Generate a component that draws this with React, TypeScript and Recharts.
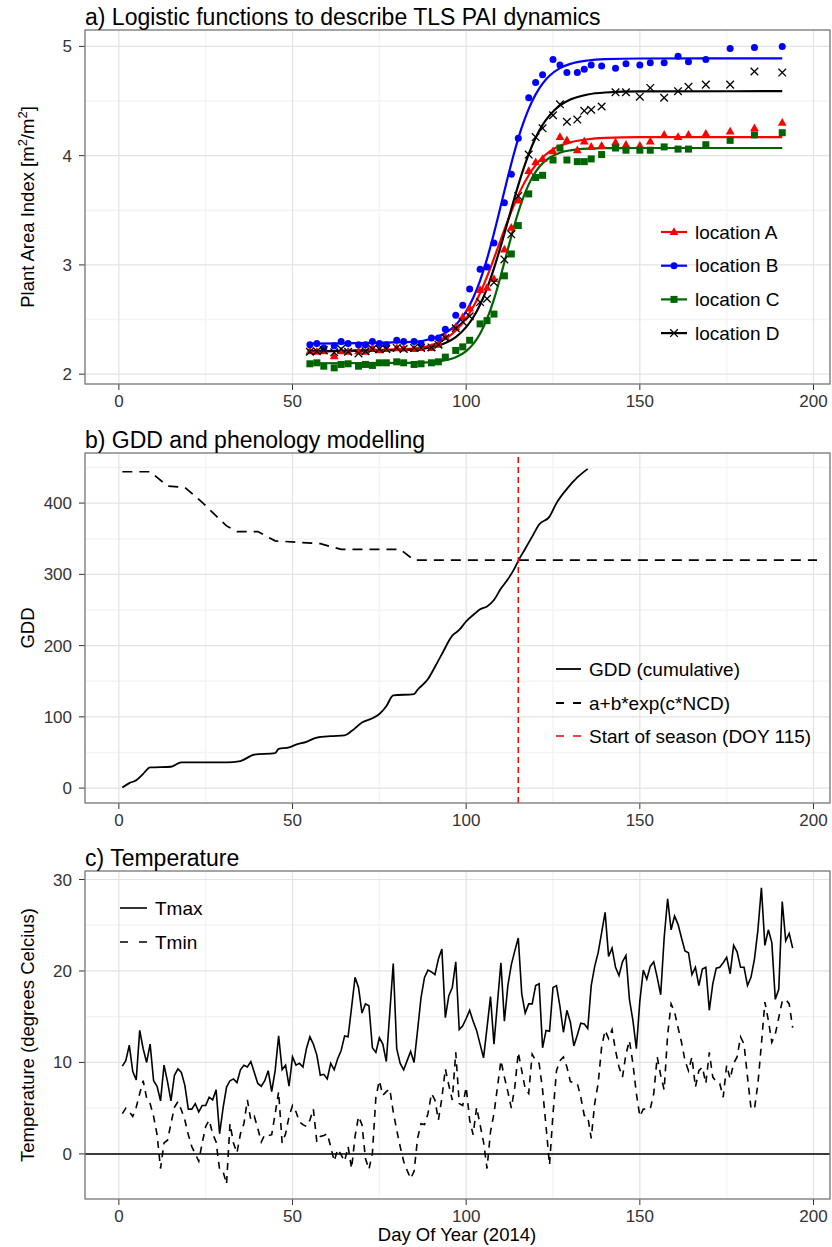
import React from 'react';
import { ComposedChart, Line, Scatter, XAxis, YAxis, CartesianGrid, ReferenceLine } from 'recharts';

const FONT = "'Liberation Sans', Arial, Helvetica, sans-serif";
const MAJOR = '#E3E3E3';
const MINOR = '#F4F4F4';
const TXT = '#333333';

// ---------- shared x axis ----------
const xTicks = [0, 50, 100, 150, 200];
const xMinor = [25, 75, 125, 175];
const xDomain: [number, number] = [-9.75, 204.75];

// ---------- panel a : PAI ----------
const paiTicks = [2, 3, 4, 5];
const paiMinor = [2.5, 3.5, 4.5];
const paiDomain: [number, number] = [1.91, 5.15];

const paiDays = [55, 57, 59, 62, 64, 66, 69, 71, 73, 75, 77, 80, 82, 85, 87, 90, 92, 94, 97, 99, 101, 104, 106, 108, 111, 113, 115, 118, 120, 122, 125, 127, 129, 132, 134, 136, 139, 143, 146, 150, 153, 157, 161, 164, 169, 176, 183, 191];
const paiA = [2.21, 2.205, 2.21, 2.165, 2.21, 2.205, 2.21, 2.205, 2.24, 2.22, 2.23, 2.24, 2.235, 2.23, 2.24, 2.24, 2.27, 2.34, 2.43, 2.52, 2.6, 2.77, 2.79, 2.87, 3.14, 3.34, 3.59, 3.86, 3.94, 3.97, 4.04, 4.17, 4.14, 4.05, 4.13, 4.08, 4.09, 4.12, 4.1, 4.09, 4.13, 4.19, 4.17, 4.19, 4.2, 4.22, 4.25, 4.3];
const paiB = [2.27, 2.28, 2.24, 2.26, 2.3, 2.28, 2.27, 2.27, 2.3, 2.28, 2.27, 2.31, 2.3, 2.3, 2.28, 2.33, 2.33, 2.41, 2.54, 2.63, 2.78, 2.96, 2.98, 3.2, 3.57, 3.83, 4.16, 4.53, 4.67, 4.74, 4.88, 4.83, 4.76, 4.76, 4.79, 4.83, 4.82, 4.8, 4.84, 4.83, 4.85, 4.85, 4.91, 4.86, 4.88, 4.98, 4.99, 5.0];
const paiC = [2.095, 2.104, 2.073, 2.058, 2.089, 2.095, 2.073, 2.089, 2.08, 2.104, 2.104, 2.113, 2.104, 2.089, 2.095, 2.104, 2.113, 2.156, 2.217, 2.25, 2.31, 2.46, 2.49, 2.55, 2.9, 3.1, 3.36, 3.65, 3.8, 3.82, 3.96, 4.07, 3.96, 3.945, 3.945, 3.97, 4.01, 4.07, 4.05, 4.05, 4.05, 4.08, 4.06, 4.06, 4.1, 4.14, 4.19, 4.21];
const paiD = [2.205, 2.21, 2.22, 2.2, 2.23, 2.205, 2.19, 2.21, 2.23, 2.23, 2.23, 2.24, 2.23, 2.24, 2.24, 2.245, 2.27, 2.33, 2.42, 2.48, 2.53, 2.66, 2.69, 2.84, 3.05, 3.28, 3.63, 4.01, 4.17, 4.25, 4.37, 4.47, 4.31, 4.33, 4.41, 4.42, 4.45, 4.58, 4.58, 4.54, 4.62, 4.53, 4.59, 4.63, 4.65, 4.65, 4.77, 4.76];

const fitDays = [55, 85, 90, 94, 97, 100, 102, 104, 106, 108, 110, 112, 114, 116, 118, 120, 122, 124, 127, 130, 135, 140, 150, 191];
const fitA = [2.21, 2.234, 2.267, 2.323, 2.397, 2.51, 2.614, 2.741, 2.892, 3.059, 3.234, 3.408, 3.566, 3.705, 3.821, 3.913, 3.983, 4.037, 4.09, 4.122, 4.15, 4.162, 4.169, 4.17];
const fitB = [2.28, 2.296, 2.324, 2.377, 2.451, 2.575, 2.697, 2.857, 3.055, 3.29, 3.546, 3.805, 4.047, 4.258, 4.428, 4.561, 4.66, 4.731, 4.801, 4.84, 4.871, 4.883, 4.889, 4.89];
const fitC = [2.1, 2.103, 2.11, 2.127, 2.155, 2.211, 2.275, 2.37, 2.506, 2.685, 2.906, 3.144, 3.377, 3.578, 3.737, 3.851, 3.93, 3.981, 4.027, 4.049, 4.064, 4.068, 4.07, 4.07];
const fitD = [2.21, 2.224, 2.246, 2.285, 2.34, 2.431, 2.519, 2.636, 2.786, 2.969, 3.176, 3.4, 3.624, 3.831, 4.014, 4.164, 4.281, 4.369, 4.46, 4.514, 4.56, 4.578, 4.588, 4.59];

const locNames = ['location A', 'location B', 'location C', 'location D'];
const locColors = ['#FF0000', '#0000FF', '#006400', '#000000'];

// ---------- panel b : GDD ----------
const gddTicks = [0, 100, 200, 300, 400];
const gddMinor = [50, 150, 250, 350, 450];
const gddDomain: [number, number] = [-20.9, 470.3];
const gddDays = [1, 3, 5, 7, 9, 15, 18, 31, 35, 39, 45, 46, 49, 51, 54, 57, 61, 65, 67, 70, 73, 75, 77, 79, 85, 86, 89, 91, 93, 96, 98, 100, 103, 104, 106, 108, 110, 112, 114, 115, 117, 119, 121, 124, 126, 129, 132, 135];
const gddValues = [1, 7, 11, 20, 29, 30, 36, 36, 38, 47, 49, 55, 57, 61, 65, 71, 73, 74, 80, 92, 98, 104, 115, 130, 132, 138, 153, 170, 188, 214, 222, 234, 247, 251, 255, 264, 280, 293, 309, 319, 336, 353, 370, 381, 400, 420, 436, 448];
const thrDays = [1, 9, 11, 14, 19, 24, 28, 31, 34, 40, 45, 58, 64, 81, 85, 201];
const thrValues = [444, 444, 436, 424, 422, 401, 382, 368, 360, 360, 347, 343, 335, 335, 320, 320];
const seasonStart = 115;
const gddLegend = ['GDD (cumulative)', 'a+b*exp(c*NCD)', 'Start of season (DOY 115)'];

// ---------- panel c : temperature ----------
const tempTicks = [0, 10, 20, 30];
const tempMinor = [5, 15, 25];
const tempDomain: [number, number] = [-4.93, 30.93];
const tmax = [
  9.6, 10.2, 11.9, 9.0, 8.1, 13.5, 11.5, 10.0, 12.0, 8.0,
  7.4, 5.8, 9.7, 7.9, 5.8, 8.6, 9.3, 8.9, 7.5, 4.9,
  4.9, 5.5, 4.6, 5.3, 5.3, 6.2, 5.9, 7.0, 2.2, 5.0,
  7.3, 8.0, 8.2, 7.8, 9.2, 9.7, 9.5, 10.1, 8.9, 7.7,
  7.4, 8.0, 9.1, 6.8, 9.1, 12.9, 9.2, 9.7, 7.4, 10.6,
  9.7, 9.9, 9.5, 11.5, 12.8, 12.0, 10.8, 8.6, 8.7, 8.2,
  9.9, 9.2, 10.4, 11.3, 12.9, 12.8, 16.0, 19.3, 18.2, 15.4,
  16.4, 16.2, 11.6, 11.1, 12.7, 12.0, 10.1, 15.4, 20.8, 11.5,
  9.9, 9.2, 10.2, 11.2, 10.0, 13.5, 17.1, 19.3, 20.1, 19.9,
  19.6, 21.3, 22.4, 14.9, 17.3, 18.2, 21.0, 13.6, 14.0, 14.8,
  15.7, 14.5, 13.5, 12.0, 10.5, 13.8, 17.2, 12.0, 16.5, 20.9,
  14.5, 18.4, 20.7, 22.2, 23.6, 17.5, 15.4, 16.4, 16.4, 18.4,
  18.6, 11.6, 13.5, 13.4, 18.2, 18.4, 16.1, 13.3, 15.7, 14.4,
  11.8, 13.0, 14.3, 14.2, 13.7, 18.4, 20.5, 22.0, 24.2, 26.4,
  21.6, 22.5, 20.4, 19.5, 21.0, 21.7, 16.9, 14.6, 11.5, 16.7,
  20.1, 19.1, 20.5, 21.0, 19.3, 17.4, 23.6, 27.9, 24.5, 26.0,
  25.1, 23.6, 22.2, 22.0, 19.6, 20.4, 18.4, 20.2, 20.4, 15.7,
  18.6, 20.3, 20.4, 20.9, 21.5, 19.7, 22.8, 22.1, 20.4, 20.4,
  18.4, 19.3, 21.3, 24.5, 29.1, 22.8, 24.5, 23.1, 16.9, 18.0,
  27.6, 23.3, 24.1, 22.5,
];
const tmin = [
  4.4, 5.0, 4.6, 4.1, 5.1, 6.6, 8.0, 6.1, 5.5, 4.1,
  2.1, -1.6, 1.2, 1.5, 3.3, 5.1, 5.7, 4.8, 3.7, 2.1,
  0.8, 0.0, -0.8, 1.2, 3.0, 3.7, 2.2, 1.3, -1.7, -1.9,
  -3.3, 3.3, 1.2, 0.1, 2.2, 3.3, 5.9, 3.7, 4.1, 2.8,
  1.3, 2.1, 2.0, 2.1, 4.4, 6.8, 1.2, 2.2, 4.1, 5.3,
  4.6, 3.5, 3.2, 3.0, 3.7, 4.9, 1.3, 1.9, 2.0, 2.2,
  0.8, -0.8, 0.5, -0.1, -0.8, 0.8, -1.6, 1.9, 4.1, 3.2,
  -0.5, -1.7, 0.1, 6.2, 8.0, 6.4, 6.8, 7.1, 4.6, 2.6,
  0.8, -0.8, -1.8, -2.7, -1.9, 1.7, 3.3, 3.2, 4.4, 6.6,
  5.9, 3.7, 6.1, 9.3, 7.5, 5.9, 11.1, 5.5, 5.3, 7.3,
  3.7, 2.1, 5.1, 3.2, 1.3, -1.6, 2.4, 4.4, 7.3, 10.2,
  8.4, 6.8, 5.0, 7.3, 11.1, 9.1, 7.1, 6.6, 10.9, 10.2,
  9.9, 7.0, 3.0, -1.2, 4.4, 9.1, 10.2, 10.6, 9.5, 7.9,
  7.8, 7.7, 6.2, 4.2, 4.1, 1.7, 5.5, 7.7, 11.7, 13.5,
  12.6, 13.6, 11.3, 9.5, 8.4, 10.9, 12.4, 9.9, 6.6, 4.1,
  4.9, 4.9, 4.9, 6.6, 10.6, 8.6, 7.0, 13.0, 16.4, 15.5,
  13.8, 12.2, 10.2, 9.1, 10.6, 7.3, 9.1, 9.5, 7.7, 11.1,
  8.4, 7.9, 7.7, 6.2, 9.7, 8.2, 9.9, 10.6, 12.8, 12.0,
  8.4, 5.0, 4.9, 7.7, 12.0, 16.6, 14.6, 12.2, 13.1, 14.9,
  16.7, 16.9, 16.4, 13.8,
];

const zip = (xs: number[], ys: number[]) => xs.map((d, i) => ({ day: d, v: ys[i] }));

// ---------- marker shapes ----------
const triPath = (cx: number, cy: number) => `M${cx},${cy - 4.8} L${cx + 4.4},${cy + 3} L${cx - 4.4},${cy + 3} Z`;
const TriShape = (p: any) => <path d={triPath(p.cx, p.cy)} fill="#FF0000" />;
const CircShape = (p: any) => <circle cx={p.cx} cy={p.cy} r={3.5} fill="#0000FF" />;
const SqShape = (p: any) => <rect x={p.cx - 3.5} y={p.cy - 3.5} width={7} height={7} fill="#006400" />;
const XShape = (p: any) => (
  <g stroke="#000" strokeWidth={1.3}>
    <line x1={p.cx - 3.8} y1={p.cy - 3.8} x2={p.cx + 3.8} y2={p.cy + 3.8} />
    <line x1={p.cx - 3.8} y1={p.cy + 3.8} x2={p.cx + 3.8} y2={p.cy - 3.8} />
  </g>
);
const shapes = [TriShape, CircShape, SqShape, XShape];

const tickStyle = { fontSize: 17, fill: TXT };

function axes(yDomain: [number, number], yTicks: number[], yMinor: number[]) {
  return [
    <XAxis key="mx" xAxisId="mx" type="number" dataKey="day" domain={xDomain} ticks={xMinor} hide allowDataOverflow />,
    <YAxis key="my" yAxisId="my" type="number" domain={yDomain} ticks={yMinor} hide allowDataOverflow />,
    <CartesianGrid key="gm" xAxisId="mx" yAxisId="my" stroke={MINOR} strokeWidth={1.5} />,
    <CartesianGrid key="gM" stroke={MAJOR} strokeWidth={1.2} />,
    <XAxis key="x" type="number" dataKey="day" domain={xDomain} ticks={xTicks} allowDataOverflow axisLine={false}
      tickLine={{ stroke: TXT }} tickSize={6} tickMargin={5} tick={tickStyle} height={30} />,
    <YAxis key="y" type="number" domain={yDomain} ticks={yTicks} allowDataOverflow axisLine={false}
      tickLine={{ stroke: TXT }} tickSize={6} tickMargin={7} tick={tickStyle} width={85} />,
  ];
}

export default function App() {
  const pai = [paiA, paiB, paiC, paiD].map((vals) => zip(paiDays, vals));
  const fits = [fitA, fitB, fitC, fitD].map((vals) => zip(fitDays, vals));
  const gdd = zip(gddDays, gddValues);
  const thr = zip(thrDays, thrValues);
  const temps = tmax.map((t, i) => ({ day: i + 1, tmax: t, tmin: tmin[i] }));

  const legA = locNames.map((n, i) => ({ n, c: locColors[i], S: shapes[i] }));

  return (
    <div style={{ position: 'absolute', left: 0, top: 0, width: 832, height: 1247, fontFamily: FONT, background: '#fff' }}>
      {/* panel a */}
      <div style={{ position: 'absolute', left: 0, top: 0 }}>
        <ComposedChart width={832} height={420} margin={{ top: 30, right: 2, bottom: 6, left: 0 }}>
          {axes(paiDomain, paiTicks, paiMinor)}
          {fits.map((d, i) => (
            <Line key={'f' + i} data={d} dataKey="v" type="monotone" stroke={locColors[i]} strokeWidth={2.2} dot={false} isAnimationActive={false} />
          ))}
          {pai.map((d, i) => (
            <Scatter key={'p' + i} data={d} dataKey="v" shape={shapes[i]} isAnimationActive={false} />
          ))}
        </ComposedChart>
      </div>
      {/* panel b */}
      <div style={{ position: 'absolute', left: 0, top: 420 }}>
        <ComposedChart width={832} height={420} margin={{ top: 33, right: 2, bottom: 7, left: 0 }}>
          {axes(gddDomain, gddTicks, gddMinor)}
          <Line data={thr} dataKey="v" type="linear" stroke="#000" strokeWidth={1.7} strokeDasharray="10 7" dot={false} isAnimationActive={false} />
          <Line data={gdd} dataKey="v" type="monotone" stroke="#000" strokeWidth={1.8} dot={false} isAnimationActive={false} />
          <ReferenceLine x={seasonStart} stroke="#FF0000" strokeWidth={1.5} strokeDasharray="6 4" />
        </ComposedChart>
      </div>
      {/* panel c */}
      <div style={{ position: 'absolute', left: 0, top: 840 }}>
        <ComposedChart width={832} height={407} data={temps} margin={{ top: 31, right: 2, bottom: 18, left: 0 }}>
          {axes(tempDomain, tempTicks, tempMinor)}
          <ReferenceLine y={0} stroke="#000" strokeWidth={1.5} />
          <Line dataKey="tmin" type="linear" stroke="#000" strokeWidth={1.6} strokeDasharray="7 6" dot={false} isAnimationActive={false} />
          <Line dataKey="tmax" type="linear" stroke="#000" strokeWidth={1.6} dot={false} isAnimationActive={false} />
        </ComposedChart>
      </div>

      {/* overlay: frames, titles, axis titles, legends */}
      <svg width={832} height={1247} style={{ position: 'absolute', left: 0, top: 0, pointerEvents: 'none' }} fontFamily={FONT}>
        <g fill="none" stroke="#7F7F7F" strokeWidth={1.3}>
          <rect x={85} y={30} width={745} height={354} />
          <rect x={85} y={453} width={745} height={350} />
          <rect x={85} y={871} width={745} height={328} />
        </g>
        <g fontSize={23} fill="#000">
          <text x={85} y={25}>a) Logistic functions to describe TLS PAI dynamics</text>
          <text x={85} y={448}>b) GDD and phenology modelling</text>
          <text x={85} y={866}>c) Temperature</text>
        </g>
        <g fontSize={18.5} fill="#000" textAnchor="middle">
          <text transform="translate(34,207) rotate(-90)">
            Plant Area Index [m<tspan dy={-7} fontSize={13}>2</tspan><tspan dy={7}>/m</tspan><tspan dy={-7} fontSize={13}>2</tspan><tspan dy={7}>]</tspan>
          </text>
          <text transform="translate(34,628) rotate(-90)">GDD</text>
          <text transform="translate(34,1035) rotate(-90)">Temperature (degrees Celcius)</text>
          <text x={457} y={1241}>Day Of Year (2014)</text>
        </g>
        {/* legend a */}
        <g fontSize={19} fill="#000">
          {legA.map((e, i) => {
            const y = 232 + i * 33.7;
            const S = e.S;
            return (
              <g key={i}>
                <line x1={661} x2={687} y1={y} y2={y} stroke={e.c} strokeWidth={2.2} />
                <S cx={674} cy={y} />
                <text x={695} y={y} dominantBaseline="central">{e.n}</text>
              </g>
            );
          })}
        </g>
        {/* legend b */}
        <g fontSize={19} fill="#000">
          <line x1={556} x2={581} y1={669} y2={669} stroke="#000" strokeWidth={1.8} />
          <text x={589} y={669} dominantBaseline="central">{gddLegend[0]}</text>
          <line x1={556} x2={581} y1={703} y2={703} stroke="#000" strokeWidth={1.8} strokeDasharray="8 9" />
          <text x={589} y={703} dominantBaseline="central">{gddLegend[1]}</text>
          <line x1={556} x2={581} y1={736} y2={736} stroke="#FF0000" strokeWidth={1.6} strokeDasharray="8 9" />
          <text x={589} y={736} dominantBaseline="central">{gddLegend[2]}</text>
        </g>
        {/* legend c */}
        <g fontSize={19} fill="#000">
          <line x1={120} x2={147} y1={908} y2={908} stroke="#000" strokeWidth={1.6} />
          <text x={155} y={908} dominantBaseline="central">Tmax</text>
          <line x1={120} x2={147} y1={942} y2={942} stroke="#000" strokeWidth={1.6} strokeDasharray="8 11" />
          <text x={155} y={942} dominantBaseline="central">Tmin</text>
        </g>
      </svg>
    </div>
  );
}
